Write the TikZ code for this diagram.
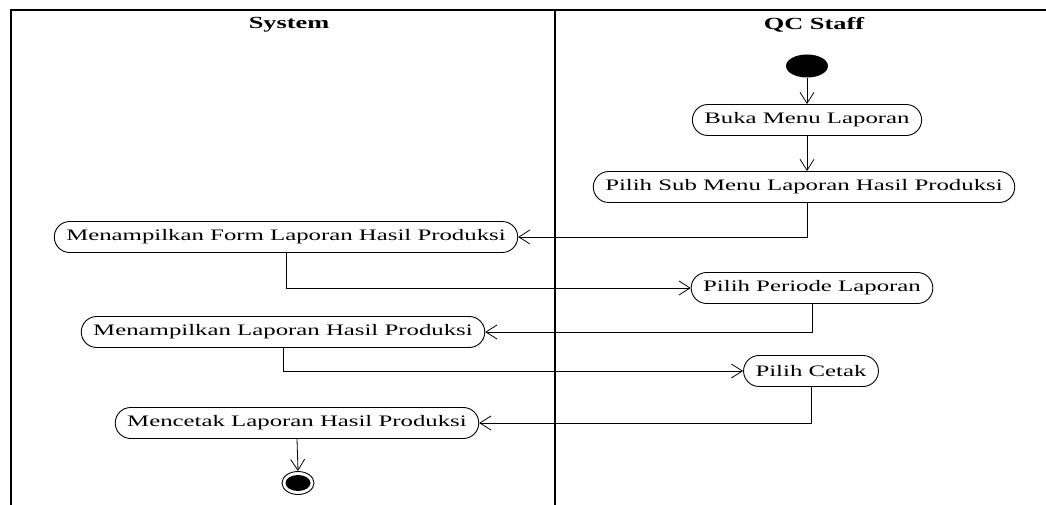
\documentclass[tikz,border=0pt]{standalone}
\usepackage{fontspec}
\setmainfont{Liberation Serif}[FakeStretch=1.55]
\usetikzlibrary{arrows.meta,shapes.geometric}
\begin{document}
\begin{tikzpicture}[x=1pt,y=-1pt,
  act/.style={draw,line width=0.9pt,rectangle,rounded corners=15.5pt,inner xsep=12pt,inner ysep=0pt,
    minimum height=31pt,font=\fontsize{16}{19}\selectfont},
  flow/.style={draw,line width=0.8pt,-{Straight Barb[length=11pt,width=14pt,line width=0.8pt]}},
  lane/.style={line width=1.4pt},
  head/.style={font=\fontsize{17}{20}\selectfont\bfseries}]
\useasboundingbox (0,0) rectangle (1046,505);
% swimlane frame
\draw[lane] (11,505) -- (11,10) -- (1046,10);
\draw[lane] (555,10) -- (555,505);
\node[head] (hsys) at (289,25) {System};
\node[head] (hqc) at (814,25) {QC Staff};
% activities
\node[ellipse,fill=black,minimum width=42pt,minimum height=23pt,inner sep=0pt] (start) at (807,66) {};
\node[act] (buka) at (807,120) {Buka Menu Laporan};
\node[act] (sub) at (804,187) {Pilih Sub Menu Laporan Hasil Produksi};
\node[act] (form) at (286,237) {Menampilkan Form Laporan Hasil Produksi};
\node[act] (periode) at (812,288) {Pilih Periode Laporan};
\node[act] (lap) at (283,332) {Menampilkan Laporan Hasil Produksi};
\node[act] (cetak) at (811,371) {Pilih Cetak};
\node[act] (mencetak) at (297,423) {Mencetak Laporan Hasil Produksi};
\node[ellipse,draw,line width=0.9pt,minimum width=32pt,minimum height=23pt,inner sep=0pt] (end) at (298,483) {};
\fill (end.center) ellipse [x radius=12.5pt, y radius=8pt];
% transitions
\draw[flow] (start) -- (buka);
\draw[flow] (buka.south -| start) -- (sub.north -| start);
\draw[flow] (sub.south -| start) |- (form.east);
\draw[flow] (form.south) |- (periode.west);
\draw[flow] (periode.south) |- (lap.east);
\draw[flow] (lap.south) |- (cetak.west);
\draw[flow] (cetak.south) |- (mencetak.east);
\draw[flow] (mencetak.south) -- (end.north);
\end{tikzpicture}
\end{document}
